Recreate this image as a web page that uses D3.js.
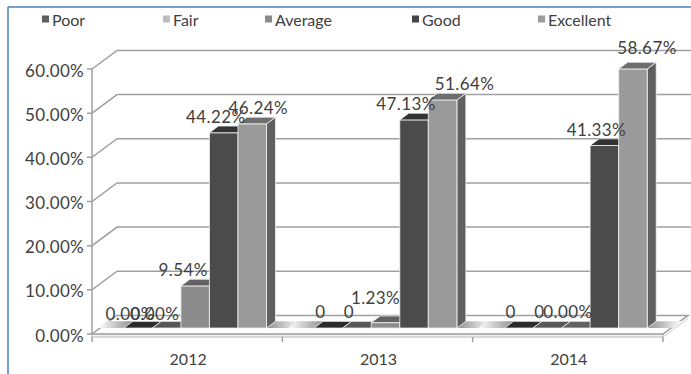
<!DOCTYPE html>
<html>
<head>
<meta charset="utf-8">
<script src="https://cdn.jsdelivr.net/npm/d3@7"></script>
<style>
  html, body { margin: 0; padding: 0; background: #fff; }
  svg { display: block; font-family: Lato, "Open Sans", sans-serif; }
</style>
</head>
<body>
<svg id="chart" width="691" height="374"></svg>
<script>
// ---- data ----
const years = ["2012", "2013", "2014"];
const seriesNames = ["Poor", "Fair", "Average", "Good", "Excellent"];
const poor = [0, 0, 0];
const fair = [0, 0, 0];
const average = [0.0954, 0.0123, 0];
const good = [0.4422, 0.4713, 0.4133];
const excellent = [0.4624, 0.5164, 0.5867];
// how a zero cell is written in its data label
const poorZeroText = ["0.00%", "0", "0"];
const fairZeroText = ["0.00%", "0", "0"];
const averageZeroText = ["0.00%", "0.00%", "0.00%"];
const yTicks = [0, 0.1, 0.2, 0.3, 0.4, 0.5, 0.6];

const seriesValues = [poor, fair, average, good, excellent];
const seriesZeroText = [poorZeroText, fairZeroText, averageZeroText, null, null];

// ---- styling ----
const legendColor = ["#5f5f5f", "#bdbdbd", "#8a8a8a", "#454545", "#9c9c9c"];
const frontColor  = ["#4a4a4a", "#b5b5b5", "#8c8c8c", "#4b4b4b", "#9a9a9a"];
const topColor    = ["#2c2c2c", "#575757", "#626262", "#333333", "#6e6e6e"];
const sideColor   = ["#3a3a3a", "#7a7a7a", "#6a6a6a", "#3c3c3c", "#606060"];
const textColor = "#404040";
const gridColor = "#a0a0a0";

// label nudges where labels would collide
const labelShift = {
  "Poor-2012": [0, 2],
  "Fair-2012": [-4, 2],
  "Average-2012": [-4, 0],
  "Excellent-2012": [14, 0],
  "Average-2013": [-2, -9],
  "Excellent-2013": [30, 0],
  "Excellent-2014": [22, -5]
};
const legendX = [42, 163, 265, 412, 538];

// ---- geometry ----
const svg = d3.select("#chart");
const W = 691, H = 374;
const depth = { dx: 25, dy: -18.6 };   // full floor depth projection
const barF0 = 0.32, barF1 = 0.68;      // bar depth span as fraction of floor depth

const x = d3.scaleBand().domain(years).range([92, 663]);
const y = d3.scaleLinear().domain([0, 0.6]).range([334, 69]);
const clusterFrac = 0.75;
const xs = d3.scaleBand().domain(seriesNames)
  .range([0, x.bandwidth() * clusterFrac]);
const clusterOffset = x.bandwidth() * (1 - clusterFrac) / 2;

function P(px, v, f) { return [px + depth.dx * f, y(v) + depth.dy * f]; }
const poly = pts => pts.map(p => p.join(",")).join(" ");

// ---- border ----
svg.append("line").attr("x1", 8).attr("x2", 8).attr("y1", 7).attr("y2", H)
  .attr("stroke", "#4a7ebb").attr("stroke-width", 1.5);
svg.append("line").attr("x1", 8).attr("x2", W).attr("y1", 7).attr("y2", 7)
  .attr("stroke", "#4a7ebb").attr("stroke-width", 1.5);

// ---- walls: gridlines ----
const x0 = x.range()[0], x1 = x.range()[1];
const grid = svg.append("g");
yTicks.forEach(t => {
  const a = P(x0, t, 0), b = P(x0, t, 1);
  if (t > 0) {
    grid.append("polyline")
      .attr("points", poly([[a[0] - 5, a[1]], a, b, [W, b[1]]]))
      .attr("fill", "none").attr("stroke", gridColor).attr("stroke-width", 1.5);
  } else {
    grid.append("line").attr("x1", a[0] - 5).attr("x2", a[0]).attr("y1", a[1]).attr("y2", a[1])
      .attr("stroke", gridColor).attr("stroke-width", 1.5);
  }
});
// vertical value axis
svg.append("line").attr("x1", x0).attr("x2", x0).attr("y1", y(0.6)).attr("y2", y(0))
  .attr("stroke", gridColor).attr("stroke-width", 1.5);

// ---- floor ----
const floor = svg.append("g");
floor.append("polygon")
  .attr("points", poly([[x0, y(0) + 3], [x1, y(0) + 3], [x1, y(0)], [x0, y(0)]]))
  .attr("fill", "#f2f2f2").attr("stroke", "#b8b8b8").attr("stroke-width", 1);
floor.append("polygon")
  .attr("points", poly([P(x0, 0, 0), P(x1, 0, 0), P(x1, 0, 1), P(x0, 0, 1)]))
  .attr("fill", "#fff").attr("stroke", gridColor).attr("stroke-width", 1.5);
floor.append("line")
  .attr("x1", x1).attr("x2", x1 + depth.dx).attr("y1", y(0) + 3).attr("y2", y(0) + 3 + depth.dy)
  .attr("stroke", "#c8c8c8").attr("stroke-width", 1);

// category ticks
years.map(c => x(c)).concat([x1]).forEach(px => {
  svg.append("line").attr("x1", px).attr("x2", px).attr("y1", y(0) + 3).attr("y2", y(0) + 8)
    .attr("stroke", gridColor).attr("stroke-width", 1.5);
});

// floor shading beside each cluster
const defs = svg.append("defs");
const gl = defs.append("linearGradient").attr("id", "shadeL");
gl.append("stop").attr("offset", "0%").attr("stop-color", "#ffffff");
gl.append("stop").attr("offset", "100%").attr("stop-color", "#8f8f8f");
const gr = defs.append("linearGradient").attr("id", "shadeR");
gr.append("stop").attr("offset", "0%").attr("stop-color", "#8f8f8f");
gr.append("stop").attr("offset", "100%").attr("stop-color", "#ffffff");

years.forEach(yr => {
  const cs = x(yr) + clusterOffset;
  const ce = cs + x.bandwidth() * clusterFrac;
  floor.append("polygon")
    .attr("points", poly([P(cs - 26, 0, barF0), P(cs, 0, barF0), P(cs, 0, barF1), P(cs - 26, 0, barF1)]))
    .attr("fill", "url(#shadeL)");
  floor.append("polygon")
    .attr("points", poly([P(ce, 0, barF0), P(ce + 26, 0, barF0), P(ce + 26, 0, barF1), P(ce, 0, barF1)]))
    .attr("fill", "url(#shadeR)");
});

// ---- bars ----
const bars = svg.append("g");
const fmt = d3.format(".2%");
const labels = [];
years.forEach((yr, yi) => {
  seriesNames.forEach((s, si) => {
    const v = seriesValues[si][yi];
    const bx0 = x(yr) + clusterOffset + xs(s);
    const bx1 = bx0 + xs.bandwidth();
    const g = bars.append("g").attr("stroke", "#f4f4f4").attr("stroke-width", 0.8)
      .attr("stroke-linejoin", "round");
    if (v > 0) {
      g.append("polygon")
        .attr("points", poly([P(bx1, v, barF0), P(bx1, v, barF1), P(bx1, 0, barF1), P(bx1, 0, barF0)]))
        .attr("fill", sideColor[si]);
      g.append("polygon")
        .attr("points", poly([P(bx0, v, barF0), P(bx1, v, barF0), P(bx1, 0, barF0), P(bx0, 0, barF0)]))
        .attr("fill", frontColor[si]);
    }
    g.append("polygon")
      .attr("points", poly([P(bx0, v, barF0), P(bx1, v, barF0), P(bx1, v, barF1), P(bx0, v, barF1)]))
      .attr("fill", topColor[si]);

    const text = v === 0 && seriesZeroText[si] ? seriesZeroText[si][yi] : fmt(v);
    const sh = labelShift[s + "-" + yr] || [0, 0];
    const top = P((bx0 + bx1) / 2, v, barF1);
    labels.push({ text, x: (bx0 + bx1) / 2 + sh[0], y: top[1] - 9.5 + sh[1] });
  });
});

// ---- data labels ----
svg.append("g").selectAll("text").data(labels).join("text")
  .attr("x", d => d.x).attr("y", d => d.y)
  .attr("text-anchor", "middle").attr("dominant-baseline", "central")
  .attr("font-size", 17).attr("letter-spacing", 0.4).attr("fill", textColor)
  .text(d => d.text);

// ---- value axis labels ----
svg.append("g").selectAll("text").data(yTicks).join("text")
  .attr("x", x0 - 8).attr("y", d => y(d) + 1)
  .attr("text-anchor", "end").attr("dominant-baseline", "central")
  .attr("font-size", 17).attr("letter-spacing", 0.3).attr("fill", textColor)
  .text(d => fmt(d));

// ---- category labels ----
svg.append("g").selectAll("text").data(years).join("text")
  .attr("x", d => x(d) + x.bandwidth() / 2 + 1).attr("y", 358)
  .attr("text-anchor", "middle").attr("dominant-baseline", "central")
  .attr("font-size", 16).attr("fill", textColor)
  .text(d => d);

// ---- legend ----
const lg = svg.append("g");
seriesNames.forEach((s, i) => {
  lg.append("rect").attr("x", legendX[i]).attr("y", 15.5).attr("width", 7).attr("height", 7)
    .attr("fill", legendColor[i]);
  lg.append("text").attr("x", legendX[i] + 10).attr("y", 19.5)
    .attr("dominant-baseline", "central").attr("font-size", 16).attr("fill", textColor)
    .text(s);
});
</script>
</body>
</html>
